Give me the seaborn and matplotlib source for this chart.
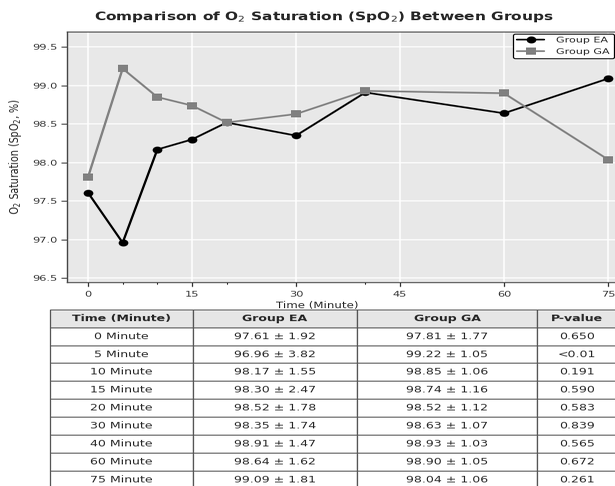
import io
import numpy as np
import pandas as pd
import matplotlib
matplotlib.use("Agg")
import matplotlib.pyplot as plt
import seaborn as sns
from PIL import Image

# Measurement times (minutes) and group means / SDs of SpO2 (%)
times = [0, 5, 10, 15, 20, 30, 40, 60, 75]
ea_mean = [97.61, 96.96, 98.17, 98.30, 98.52, 98.35, 98.91, 98.64, 99.09]
ga_mean = [97.81, 99.22, 98.85, 98.74, 98.52, 98.63, 98.93, 98.90, 98.04]
ea_sd = [1.92, 3.82, 1.55, 2.47, 1.78, 1.74, 1.47, 1.62, 1.81]
ga_sd = [1.77, 1.05, 1.06, 1.16, 1.12, 1.07, 1.03, 1.05, 1.06]
p_values = ["0.650", "<0.01", "0.191", "0.590", "0.583", "0.839", "0.565", "0.672", "0.261"]
col_labels = ["Time (Minute)", "Group EA", "Group GA", "P-value"]
major_ticks = [0, 15, 30, 45, 60, 75]
y_ticks = [96.5, 97.0, 97.5, 98.0, 98.5, 99.0, 99.5]

W, H = 615, 486          # final image size
RH = 675                 # render height before vertical rescale


def fx(px):
    return px / W


def fy(py):
    return 1 - py / H


sns.set_theme(style="darkgrid", rc={
    "axes.facecolor": "#e8e8e8",
    "axes.edgecolor": "#444444",
    "axes.linewidth": 1.0,
    "grid.color": "white",
    "grid.linewidth": 1.1,
    "xtick.bottom": True,
    "ytick.left": True,
    "xtick.color": "#333333",
    "ytick.color": "#333333",
})
plt.rcParams["font.family"] = ["DejaVu Sans"]

fig = plt.figure(figsize=(W / 100, RH / 100), dpi=100)

# ---- line chart ----
ax_l, ax_r, ax_t, ax_b = 67.2, 628.8, 31.6, 282.0
ax = fig.add_axes([fx(ax_l), fy(ax_b), fx(ax_r - ax_l), (ax_b - ax_t) / H])

df = pd.DataFrame({
    "Time": times * 2,
    "SpO2": ea_mean + ga_mean,
    "Group": ["Group EA"] * len(times) + ["Group GA"] * len(times),
})
sns.lineplot(data=df[df.Group == "Group EA"], x="Time", y="SpO2", ax=ax,
             color="black", marker="o", markersize=7, linewidth=1.7,
             markeredgewidth=0, label="Group EA")
sns.lineplot(data=df[df.Group == "Group GA"], x="Time", y="SpO2", ax=ax,
             color="#808080", marker="s", markersize=6.5, linewidth=1.7,
             markeredgewidth=0, label="Group GA")

ax.set_xlim(-3, 78)
ax.set_ylim(96.45, 99.7)
ax.set_xticks(major_ticks)
ax.set_xticks([t for t in times if t not in major_ticks], minor=True)
ax.set_yticks(y_ticks)
ax.set_yticklabels([f"{v:.1f}" for v in y_ticks])
ax.tick_params(axis="both", which="major", length=4, width=0.9, labelsize=8.2)
ax.tick_params(axis="x", which="major", pad=5)
ax.tick_params(axis="y", which="major", pad=3)
ax.tick_params(axis="x", which="minor", length=2, width=0.8, bottom=True)
ax.grid(which="minor", visible=False)

ax.set_xlabel("Time (Minute)", fontsize=8.5)
ax.xaxis.set_label_coords((317 - ax_l) / (ax_r - ax_l), -0.076)
ax.set_ylabel("O$_2$ Saturation (SpO$_2$, %)", fontsize=9.5)
ax.yaxis.set_label_coords(-0.077, 0.5)

leg = ax.legend(loc="upper left", bbox_to_anchor=(fx(513), fy(33.5)),
                bbox_transform=fig.transFigure, fontsize=8, frameon=True,
                fancybox=True, framealpha=1, edgecolor="black",
                borderpad=0.4, labelspacing=0.5, handlelength=2.4,
                handletextpad=1.1, borderaxespad=0)
leg.get_frame().set_facecolor("white")
leg.get_frame().set_linewidth(0.9)

fig.text(fx(324), fy(17), "Comparison of O$_2$ Saturation (SpO$_2$) Between Groups",
         ha="center", va="center", fontsize=11.1, fontweight="bold")

# ---- summary table ----
rows = [[f"{t} Minute", f"{a:.2f} ± {sa:.2f}", f"{g:.2f} ± {sg:.2f}", p]
        for t, a, sa, g, sg, p in zip(times, ea_mean, ea_sd, ga_mean, ga_sd, p_values)]
t_l, t_r, t_t = 50, 617, 309.5
row_h = 17.9
t_b = t_t + row_h * (len(rows) + 1)
tax = fig.add_axes([fx(t_l), fy(t_b), fx(t_r - t_l), (t_b - t_t) / H])
tax.axis("off")
col_edges = [50, 193, 357, 537, 617]
col_w = [(col_edges[i + 1] - col_edges[i]) / (t_r - t_l) for i in range(4)]
tbl = tax.table(cellText=rows, colLabels=col_labels, colWidths=col_w,
                cellLoc="center", bbox=[0, 0, 1, 1])
tbl.auto_set_font_size(False)
tbl.set_fontsize(9)
for (r, c), cell in tbl.get_celld().items():
    cell.set_edgecolor("#555555")
    cell.set_linewidth(0.9)
    if r == 0:
        cell.set_facecolor("#e6e6e6")
        cell.get_text().set_fontweight("bold")
    else:
        cell.set_facecolor("white")

fig.savefig("out.png", dpi=100)

# rescale vertically to the final output size
buf = io.BytesIO()
fig.savefig(buf, format="png", dpi=100)
buf.seek(0)
img = Image.open(buf).convert("RGB")
img = img.resize((W, H), Image.LANCZOS)
img.save("out.png")
